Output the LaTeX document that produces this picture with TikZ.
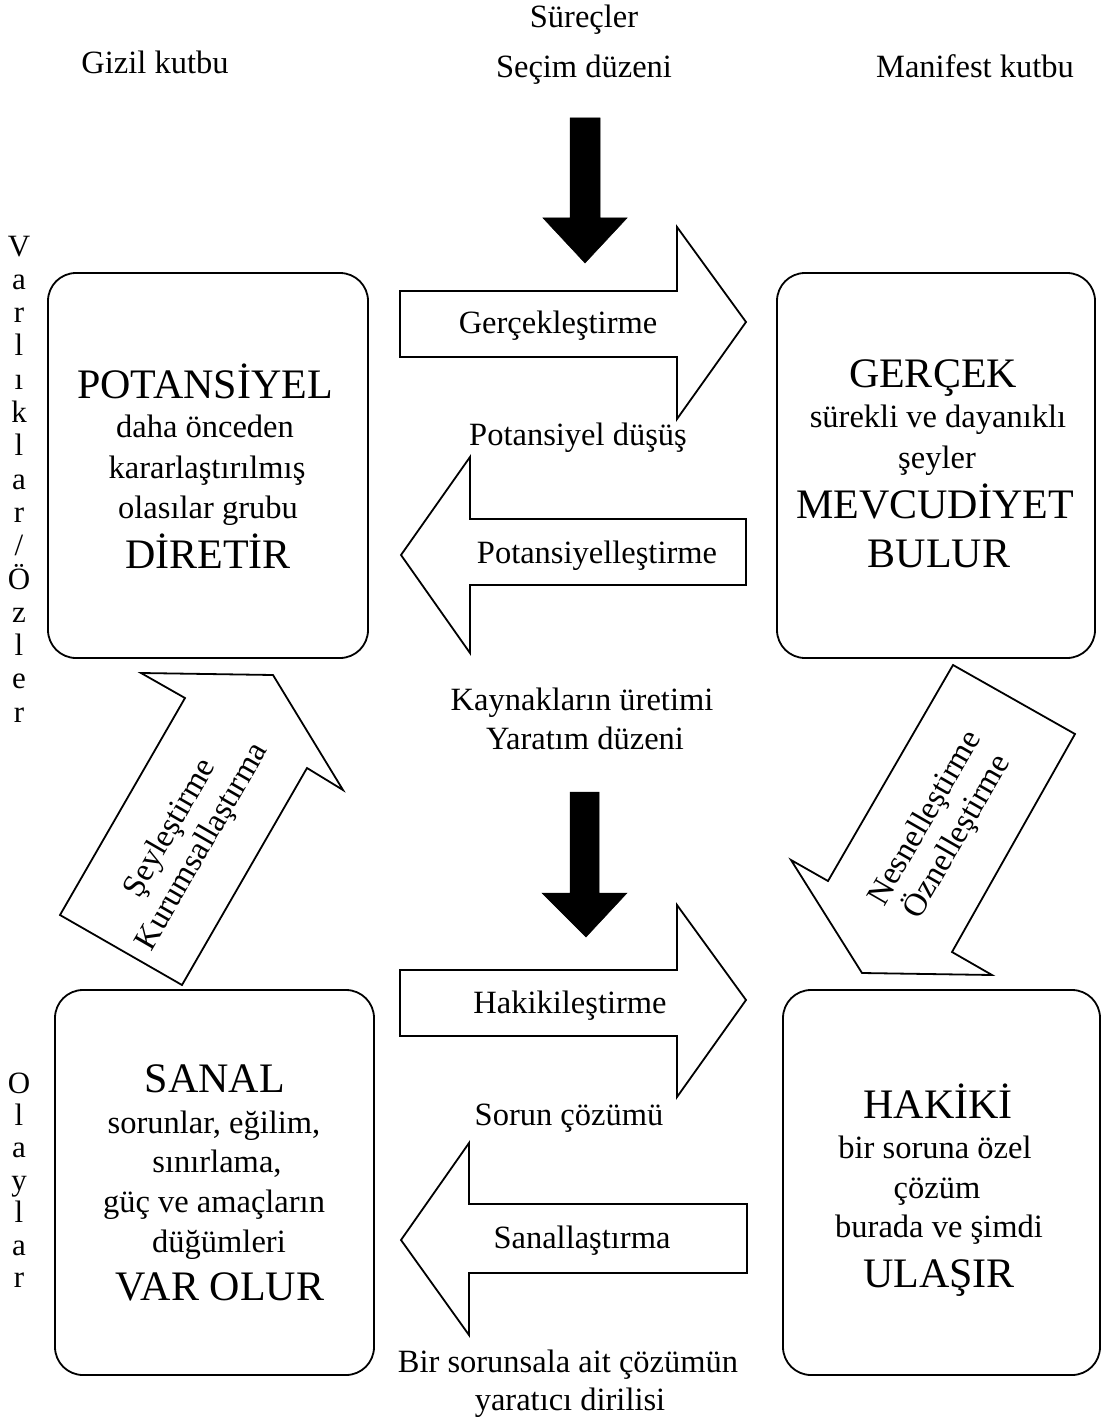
\documentclass[tikz,border=0pt]{standalone}
\usepackage{fontspec}
\setmainfont{Liberation Serif}
\begin{document}
\begin{tikzpicture}[x=1pt,y=-1pt,
  box/.style={draw, line width=1.8pt, rounded corners=28pt, inner sep=0pt, outer sep=0pt},
  bigarrow/.style={draw, line width=1.8pt, fill=white, line join=miter},
  blackarrow/.style={fill=black, draw=black, line width=0.5pt},
  lbl/.style={font=\fontsize{32.5}{39}\selectfont, inner sep=0pt, anchor=base},
  capstyle/.style={font=\fontsize{42}{50}\selectfont, inner sep=0pt, anchor=base},
  vlet/.style={font=\fontsize{31}{36}\selectfont, inner sep=0pt, anchor=base},
  diag/.style={font=\fontsize{32.5}{37}\selectfont, inner sep=0pt, align=center, rotate=60},
]
\useasboundingbox (0,0) rectangle (1103,1423);

% boxes
\node[box, minimum width=320pt, minimum height=385pt] (pot) at (208,465.5) {};
\node[box, minimum width=318pt, minimum height=385pt] (ger) at (936,465.5) {};
\node[box, minimum width=319pt, minimum height=385pt] (san) at (214.5,1182.5) {};
\node[box, minimum width=317pt, minimum height=385pt] (hak) at (941.5,1182.5) {};

% top labels
\node[lbl] (surec) at (584,28) {Süreçler};
\node[lbl] (secim) at (584,78) {Seçim düzeni};
\node[lbl] (gizil) at (155,74) {Gizil kutbu};
\node[lbl] (manif) at (975,78) {Manifest kutbu};

% black arrows
\path[blackarrow] (570,118) -- (600,118) -- (600,218) -- (627,218) -- (585,263) -- (543,218) -- (570,218) -- cycle;
\path[blackarrow] (570,792) -- (599,792) -- (599,893) -- (627,893) -- (586,937) -- (542,893) -- (570,893) -- cycle;

% horizontal block arrows
\draw[bigarrow] (400,291) -- (677,291) -- (677,227) -- (746,322) -- (677,419) -- (677,357) -- (400,357) -- cycle;
\draw[bigarrow] (746,519) -- (470,519) -- (470,457) -- (401,555) -- (470,653) -- (470,585) -- (746,585) -- cycle;
\draw[bigarrow] (400,970) -- (677,970) -- (677,905) -- (746,1000) -- (677,1097) -- (677,1036) -- (400,1036) -- cycle;
\draw[bigarrow] (747,1204) -- (469,1204) -- (469,1143) -- (401,1240) -- (469,1335) -- (469,1273) -- (747,1273) -- cycle;

% diagonal block arrows
\draw[bigarrow] (60,915) -- (185,698) -- (141,673) -- (273,675) -- (343,790) -- (307,768) -- (182,985) -- cycle;
\draw[bigarrow] (953,665) -- (1075,734) -- (952,952) -- (992,975) -- (862,973) -- (791,860) -- (828,881) -- cycle;

% arrow labels
\node[lbl] (l1) at (558,333) {Gerçekleştirme};
\node[lbl] (l2) at (578,445) {Potansiyel düşüş};
\node[lbl] (l3) at (597,563) {Potansiyelleştirme};
\node[lbl] (l4) at (582,710) {Kaynakların üretimi};
\node[lbl] (l5) at (585,749) {Yaratım düzeni};
\node[lbl] (l6) at (570,1013) {Hakikileştirme};
\node[lbl] (l7) at (569,1125) {Sorun çözümü};
\node[lbl] (l8) at (582,1248) {Sanallaştırma};
\node[lbl] (l9) at (568,1372) {Bir sorunsala ait çözümün};
\node[lbl] (l10) at (570,1410) {yaratıcı dirilisi};

\node[diag] (d1) at (187,838) {Şeyleştirme\\Kurumsallaştırma};
\node[diag] (d2) at (942,828) {Nesnelleştirme\\Öznelleştirme};

% box texts
\node[capstyle] (p1) at (205,398) {POTANSİYEL};
\node[lbl] (p2) at (205,437) {daha önceden};
\node[lbl] (p3) at (207,478) {kararlaştırılmış};
\node[lbl] (p4) at (208,518) {olasılar grubu};
\node[capstyle] (p5) at (208,568) {DİRETİR};

\node[capstyle] (g1) at (933,387) {GERÇEK};
\node[lbl] (g2) at (938,427) {sürekli ve dayanıklı};
\node[lbl] (g3) at (937,468) {şeyler};
\node[capstyle] (g4) at (935,518) {MEVCUDİYET};
\node[capstyle] (g5) at (939,567) {BULUR};

\node[capstyle] (s1) at (215,1092) {SANAL};
\node[lbl] (s2) at (214,1133) {sorunlar, eğilim,};
\node[lbl] (s3) at (217,1172) {sınırlama,};
\node[lbl] (s4) at (214,1212) {güç ve amaçların};
\node[lbl] (s5) at (219,1252) {düğümleri};
\node[capstyle] (s6) at (220,1300) {VAR OLUR};

\node[capstyle] (h1) at (938,1118) {HAKİKİ};
\node[lbl] (h2) at (935,1158) {bir soruna özel};
\node[lbl] (h3) at (937,1198) {çözüm};
\node[lbl] (h4) at (939,1237) {burada ve şimdi};
\node[capstyle] (h5) at (939,1287) {ULAŞIR};

% vertical letters
\foreach \ch [count=\i from 0] in {V,a,r,l,ı,k,l,a,r,\slash,Ö,z,l,e,r}
  \node[vlet] (v\i) at (19,256+33.3*\i) {\ch};
\foreach \ch [count=\i from 0] in {O,l,a,y,l,a,r}
  \node[vlet] (o\i) at (19,1093+32.4*\i) {\ch};
\end{tikzpicture}
\end{document}
